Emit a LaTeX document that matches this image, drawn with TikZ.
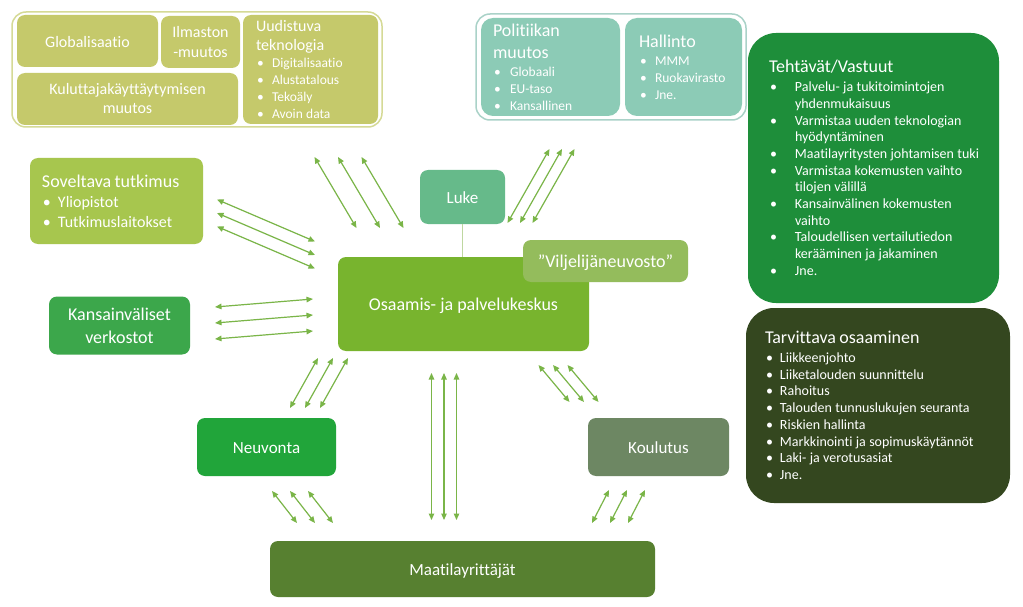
\documentclass[tikz,border=0pt]{standalone}
\usepackage{fontspec}
\setmainfont{Carlito}[Ligatures=NoCommon]
\usetikzlibrary{arrows.meta}

\definecolor{yellowgr}{HTML}{C5C96B}
\definecolor{yellowline}{HTML}{D5DA96}
\definecolor{tealgr}{HTML}{8CCBB6}
\definecolor{tealline}{HTML}{AAD2C8}
\definecolor{tehgr}{HTML}{1E8E3A}
\definecolor{tarolive}{HTML}{34471F}
\definecolor{sovgr}{HTML}{A7C64E}
\definecolor{kangr}{HTML}{3CA74B}
\definecolor{lukegr}{HTML}{66BA8A}
\definecolor{oskgr}{HTML}{78B42E}
\definecolor{vilgr}{HTML}{94BC5C}
\definecolor{neugr}{HTML}{21A53A}
\definecolor{kougr}{HTML}{6D8763}
\definecolor{maagr}{HTML}{578030}
\definecolor{arrowgr}{HTML}{7AB548}
\definecolor{lukeline}{HTML}{BED7A0}

\newcommand{\fsz}[2]{\fontsize{#1}{#2}\selectfont}
\newcommand{\bitem}[2][16pt]{\par\hangindent=#1\hangafter=1\noindent\makebox[#1][l]{\hspace{1pt}\textbullet}#2}

\begin{document}
\begin{tikzpicture}[x=1pt,y=-1pt,
  cell/.style={rectangle,rounded corners=8pt,inner sep=0pt,text=white,align=center},
  oneline/.style={font=\fsz{#1}{#1},text height=#1,text depth=0.24*#1},
  groupframe/.style={rectangle,draw,line width=1.5pt,rounded corners=14pt,inner sep=0pt,fill=white},
  twoway/.style={<->,line width=1.2pt,color=arrowgr,>={Triangle[length=6.5pt,width=5.5pt]}}]
\useasboundingbox [fill=white] (0,0) rectangle (1023,607);

% top left: drivers
\node (ymp) [groupframe,draw=yellowline,minimum width=370,minimum height=115] at (197,69.5) {};
\node (glob) [cell,oneline=16,fill=yellowgr,minimum width=141,minimum height=52] at (87.5,41) {Globalisaatio};
\node (ilm) [cell,fill=yellowgr,minimum width=79,minimum height=52,font=\fsz{16}{20}] at (200.5,42) {Ilmaston\\-muutos};
\node (kul) [cell,fill=yellowgr,minimum width=221,minimum height=52,font=\fsz{16}{19}] at (127.5,99) {Kuluttajakäyttäytymisen\\muutos};
\node (uud) [cell,fill=yellowgr,minimum width=135,minimum height=109,text width=135,align=left] at (310.5,69.5)
  {\leftskip=13pt \fsz{16}{19}Uudistuva\par teknologia\par\fsz{13.5}{17}%
   \bitem{Digitalisaatio}\bitem{Alustatalous}\bitem{Tekoäly}\bitem{Avoin data}\par};

% top middle: politics
\node (pol-frame) [groupframe,draw=tealline,minimum width=270,minimum height=106] at (611,67) {};
\node (pol) [cell,fill=tealgr,rounded corners=12pt,minimum width=139,minimum height=98,text width=139,align=left] at (550.5,67)
  {\leftskip=12pt \fsz{18}{22}Politiikan\par muutos\par\vspace{1pt}\fsz{13.5}{17}%
   \bitem[17pt]{Globaali}\bitem[17pt]{EU-taso}\bitem[17pt]{Kansallinen}\par};
\node (hal) [cell,fill=tealgr,rounded corners=12pt,minimum width=117,minimum height=98,text width=117,align=left] at (683.5,67)
  {\leftskip=14pt \fsz{18}{22}Hallinto\par\vspace{1pt}\fsz{13.5}{17}%
   \bitem{MMM}\bitem{Ruokavirasto}\bitem{Jne.}\par};

% right: tasks and skills
\node (teh) [cell,fill=tehgr,rounded corners=28pt,minimum width=251,minimum height=270,text width=251,align=left] at (873.5,168)
  {\leftskip=21pt \fsz{18}{22}Tehtävät/Vastuut\par\vspace{2pt}\fsz{14}{16.7}%
   \bitem[26pt]{Palvelu- ja tukitoimintojen\newline yhdenmukaisuus}
   \bitem[26pt]{Varmistaa uuden teknologian\newline hyödyntäminen}
   \bitem[26pt]{Maatilayritysten johtamisen tuki}
   \bitem[26pt]{Varmistaa kokemusten vaihto\newline tilojen välillä}
   \bitem[26pt]{Kansainvälinen kokemusten\newline vaihto}
   \bitem[26pt]{Taloudellisen vertailutiedon\newline kerääminen ja jakaminen}
   \bitem[26pt]{Jne.}\par};
\node (tar) [cell,fill=tarolive,rounded corners=28pt,minimum width=264,minimum height=195,text width=264,align=left] at (878,405.5)
  {\leftskip=19pt \fsz{18}{22}Tarvittava osaaminen\par\vspace{2pt}\fsz{14}{16.7}%
   \bitem[15pt]{Liikkeenjohto}
   \bitem[15pt]{Liiketalouden suunnittelu}
   \bitem[15pt]{Rahoitus}
   \bitem[15pt]{Talouden tunnuslukujen seuranta}
   \bitem[15pt]{Riskien hallinta}
   \bitem[15pt]{Markkinointi ja sopimuskäytännöt}
   \bitem[15pt]{Laki- ja verotusasiat}
   \bitem[15pt]{Jne.}\par};

% left
\node (sov) [cell,fill=sovgr,minimum width=173,minimum height=86,text width=173,align=left] at (116.5,201)
  {\leftskip=12pt \fsz{18}{20}Soveltava tutkimus\par\fsz{16}{20}%
   \bitem{Yliopistot}\bitem{Tutkimuslaitokset}\par};
\node (kan) [cell,fill=kangr,minimum width=141,minimum height=58,font=\fsz{18}{23}] at (119.5,325.5) {Kansainväliset\\verkostot};

% centre
\node (luke) [cell,oneline=17,fill=lukegr,minimum width=85,minimum height=54] at (462.5,197) {Luke};
\node (osk) [cell,oneline=18,fill=oskgr,minimum width=251,minimum height=94] at (463.5,304) {Osaamis- ja palvelukeskus};
\draw [line width=1.5pt,color=lukeline] (luke.south) -- (luke.south |- osk.north);
\node (vil) [cell,oneline=18,fill=vilgr,minimum width=165,minimum height=42] at (605.5,261) {”Viljelijäneuvosto”};

% bottom
\node (neu) [cell,oneline=17,fill=neugr,minimum width=139,minimum height=58] at (266.5,447) {Neuvonta};
\node (kou) [cell,oneline=17,fill=kougr,minimum width=141,minimum height=58] at (658.5,447) {Koulutus};
\node (maa) [cell,oneline=17,fill=maagr,minimum width=385,minimum height=56] at (462.5,569) {Maatilayrittäjät};

% arrow triples
\coordinate (tla) at (338,157); \coordinate (tlb) at (380,228);
\coordinate (tra) at (520,223); \coordinate (trb) at (562,149);
\coordinate (sova) at (217,213); \coordinate (sovb) at (315,255);
\coordinate (kana) at (215,323); \coordinate (kanb) at (313,315);
\coordinate (neua) at (305,408); \coordinate (neub) at (333,358);
\coordinate (maaa) at (444,373); \coordinate (maab) at (444,520);
\coordinate (koua) at (553,365); \coordinate (koub) at (584,402);
\coordinate (nma) at (290,491); \coordinate (nmb) at (315,523);
\coordinate (kma) at (627,490); \coordinate (kmb) at (610,523);
\foreach \k in {-1,0,1} \draw [twoway] ([xshift=\k*23.5]tla) -- ([xshift=\k*23.5]tlb);
\foreach \k in {-1,0,1} \draw [twoway] ([xshift=\k*12.5]tra) -- ([xshift=\k*12.5]trb);
\foreach \k in {-1,0,1} \draw [twoway] ([yshift=\k*13.5]sova) -- ([yshift=\k*13.5]sovb);
\foreach \k in {-1,0,1} \draw [twoway] ([yshift=\k*16]kana) -- ([yshift=\k*16]kanb);
\foreach \k in {-1,0,1} \draw [twoway] ([xshift=\k*15]neua) -- ([xshift=\k*15]neub);
\foreach \k in {-1,0,1} \draw [twoway] ([xshift=\k*12.5]maaa) -- ([xshift=\k*12.5]maab);
\foreach \k in {-1,0,1} \draw [twoway] ([xshift=\k*14.5]koua) -- ([xshift=\k*14.5]koub);
\foreach \k in {-1,0,1} \draw [twoway] ([xshift=\k*18]nma) -- ([xshift=\k*18]nmb);
\foreach \k in {-1,0,1} \draw [twoway] ([xshift=\k*18]kma) -- ([xshift=\k*18]kmb);
\end{tikzpicture}
\end{document}
